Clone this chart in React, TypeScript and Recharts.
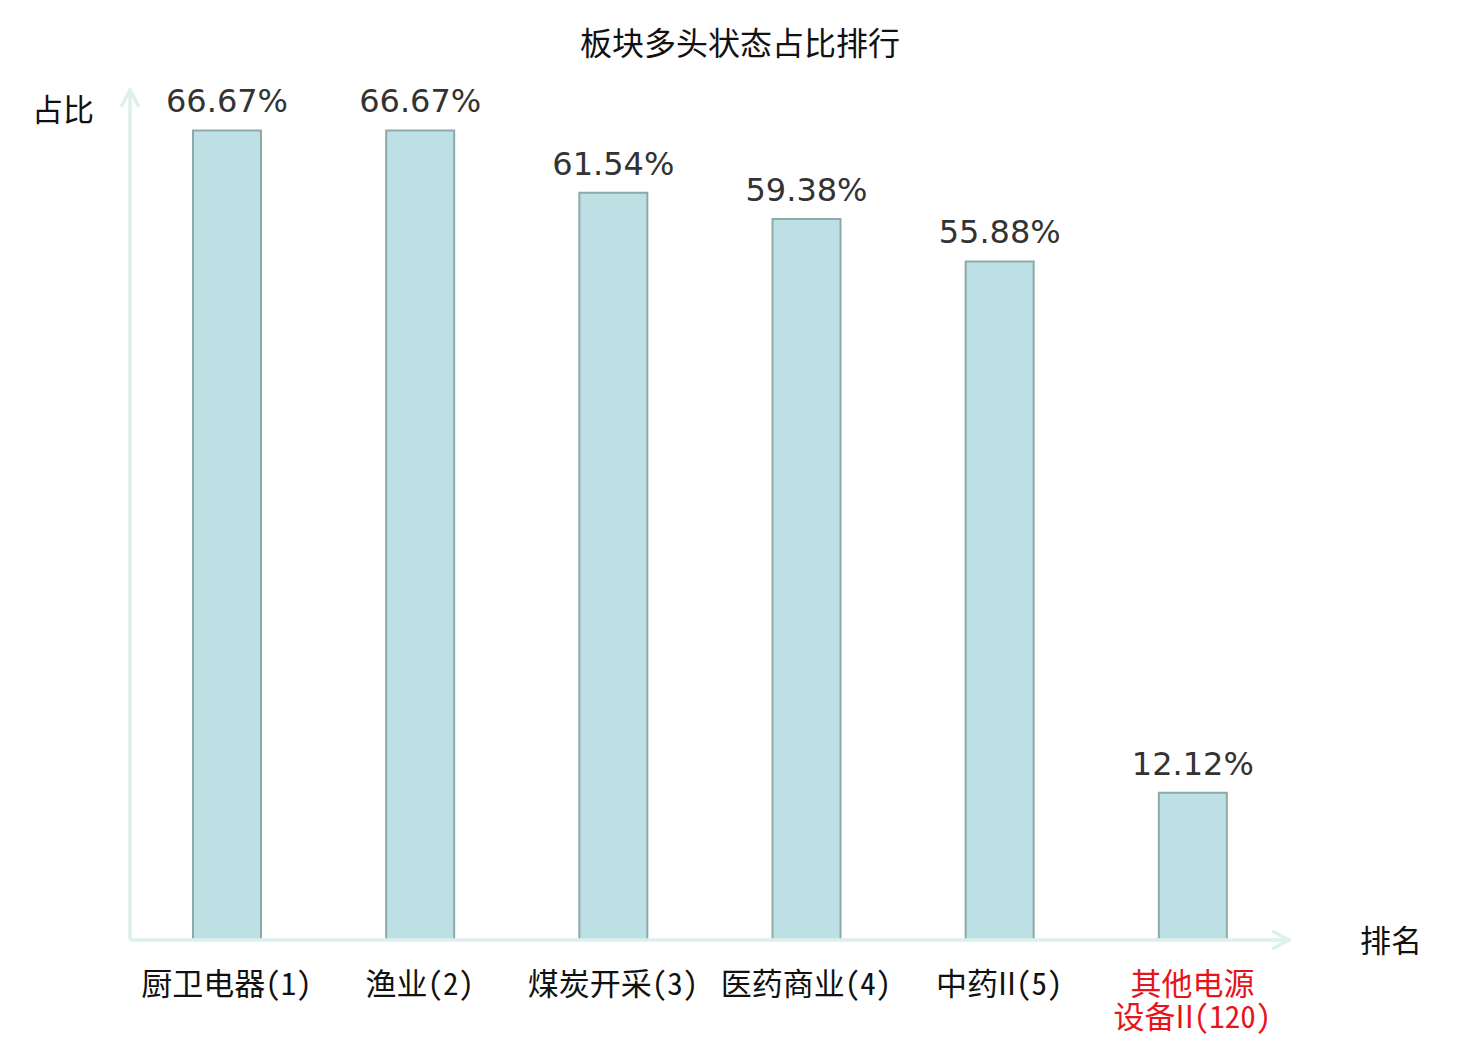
import React from "react";
import { BarChart, Bar, XAxis, YAxis, LabelList, Label } from "recharts";

const categories = ["厨卫电器(1)", "渔业(2)", "煤炭开采(3)", "医药商业(4)", "中药II(5)", "其他电源\n设备II(120)"];
const values = [66.67, 66.67, 61.54, 59.38, 55.88, 12.12];
const highlighted = [false, false, false, false, false, true];
const yDomain = [0, 70];

const data = categories.map((name, i) => ({ name, value: values[i], hl: highlighted[i] }));

const CJK = '"Noto Sans CJK SC", "DejaVu Sans", sans-serif';
const AXIS_COLOR = "#dcf1ee";
const HW = { fontFeatureSettings: '"hwid" 1' };
const PROP = { fontFeatureSettings: "normal" };

const Tick = (props: any) => {
  const { x, y, payload, index } = props;
  const lines = String(payload.value).split("\n");
  const color = highlighted[index] ? "#e8141b" : "#111";
  return (
    <text x={x} y={y} textAnchor="middle" fill={color} fontFamily={CJK} fontSize={31} style={HW}>
      {lines.map((l, i) => (
        <tspan key={i} x={x} dy={i === 0 ? 47 : 33}>
          {l.split(/(II)/).map((seg, j) =>
            seg === "II" ? (
              <tspan key={j} style={PROP}>
                {seg}
              </tspan>
            ) : (
              seg
            )
          )}
        </tspan>
      ))}
    </text>
  );
};

export default function App() {
  return (
    <div style={{ position: "absolute", left: 0, top: 0, width: 1480, height: 1040, background: "#fff" }}>
      <div
        style={{
          position: "absolute",
          left: 0,
          top: 24,
          width: 1480,
          textAlign: "center",
          fontFamily: CJK,
          fontSize: 32,
          lineHeight: "34px",
          color: "#111",
        }}
      >
        板块多头状态占比排行
      </div>
      <BarChart
        width={1480}
        height={1040}
        data={data}
        margin={{ top: 90, right: 191, bottom: 40, left: 70 }}
        barCategoryGap={0}
      >
        <defs>
          <marker
            id="arrowHead"
            viewBox="0 0 20 20"
            refX="18"
            refY="10"
            markerWidth="20"
            markerHeight="20"
            markerUnits="userSpaceOnUse"
            orient="auto-start-reverse"
          >
            <path d="M1,1 L18,10 L1,19" fill="none" stroke={AXIS_COLOR} strokeWidth={3.5} />
          </marker>
        </defs>
        <XAxis
          dataKey="name"
          height={60}
          interval={0}
          tickLine={false}
          axisLine={{ stroke: AXIS_COLOR, strokeWidth: 3.5, markerEnd: "url(#arrowHead)" }}
          tick={<Tick />}
        >
          <Label
            content={(p: any) => {
              const vb = p.viewBox;
              return (
                <text x={vb.x + vb.width + 102} y={vb.y + 12} textAnchor="middle" fontFamily={CJK} fontSize={31} fill="#111">
                  排名
                </text>
              );
            }}
          />
        </XAxis>
        <YAxis
          domain={yDomain}
          width={60}
          tick={false}
          tickLine={false}
          axisLine={{ stroke: AXIS_COLOR, strokeWidth: 3.5, markerStart: "url(#arrowHead)" }}
        >
          <Label
            content={(p: any) => {
              const vb = p.viewBox;
              return (
                <text x={vb.x - 7} y={vb.y + 31} textAnchor="middle" fontFamily={CJK} fontSize={31} fill="#111">
                  占比
                </text>
              );
            }}
          />
        </YAxis>
        <Bar dataKey="value" barSize={68} fill="#bce0e3" stroke="#8fa9a9" strokeWidth={2} isAnimationActive={false}>
          <LabelList
            dataKey="value"
            position="top"
            offset={18}
            formatter={(v: any) => `${Number(v).toFixed(2)}%`}
            style={{ fontFamily: '"DejaVu Sans", sans-serif', fontSize: 32, fill: "#333" }}
          />
        </Bar>
      </BarChart>
    </div>
  );
}
